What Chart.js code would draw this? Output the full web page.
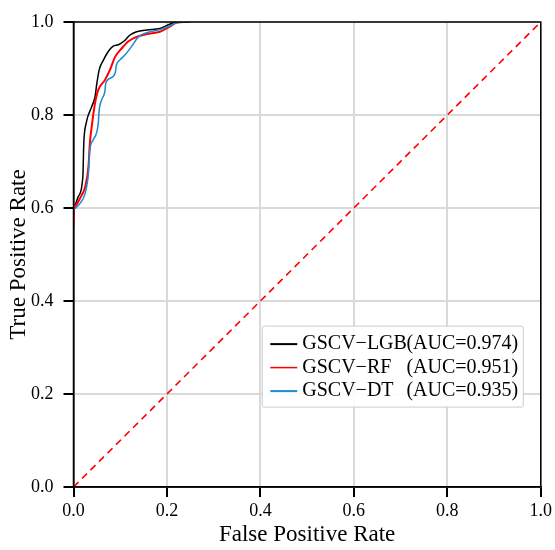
<!DOCTYPE html>
<html>
<head>
<meta charset="utf-8">
<script src="https://cdn.jsdelivr.net/npm/chart.js@4/dist/chart.umd.min.js"></script>
<style>
    html, body { margin: 0; padding: 0; background: #fff; }
    #roc-chart { display: block; }
</style>
</head>
<body>
<canvas id="roc-chart" width="555" height="550"></canvas>
<script>
const modelNames = ['GSCV\u2212LGB', 'GSCV\u2212RF', 'GSCV\u2212DT'];
const aucValues = ['(AUC=0.974)', '(AUC=0.951)', '(AUC=0.935)'];
const lineColors = ['#000000', '#ff0000', '#1f88d2'];

const fprLGB = [0.001, 0.010, 0.020, 0.022, 0.027, 0.039, 0.046, 0.050, 0.055, 0.064, 0.074, 0.085, 0.096, 0.107, 0.121, 0.135, 0.157, 0.185, 0.203, 0.217, 0.249];
const tprLGB = [0.597, 0.624, 0.667, 0.739, 0.782, 0.818, 0.839, 0.868, 0.897, 0.918, 0.936, 0.948, 0.951, 0.958, 0.972, 0.979, 0.983, 0.986, 0.994, 0.999, 1.000];

const fprRF = [0.000, 0.001, 0.005, 0.014, 0.025, 0.032, 0.035, 0.039, 0.046, 0.053, 0.067, 0.078, 0.089, 0.103, 0.117, 0.135, 0.157, 0.185, 0.206, 0.221, 0.240];
const tprRF = [0.560, 0.596, 0.606, 0.621, 0.646, 0.689, 0.739, 0.775, 0.825, 0.854, 0.875, 0.897, 0.925, 0.943, 0.958, 0.968, 0.974, 0.979, 0.990, 0.999, 1.000];

const fprDT = [0.001, 0.014, 0.025, 0.032, 0.035, 0.042, 0.053, 0.055, 0.060, 0.067, 0.069, 0.078, 0.089, 0.092, 0.099, 0.110, 0.124, 0.139, 0.157, 0.185, 0.206, 0.221, 0.249];
const tprDT = [0.597, 0.610, 0.632, 0.675, 0.725, 0.746, 0.782, 0.811, 0.832, 0.850, 0.868, 0.879, 0.890, 0.908, 0.918, 0.929, 0.947, 0.968, 0.977, 0.984, 0.991, 0.999, 1.000];

const chanceX = [0, 1];
const chanceY = [0, 1];

const tickValues = [0, 0.2, 0.4, 0.6, 0.8, 1.0];

const serif = '"Liberation Serif", "DejaVu Serif", serif';

function toPoints(xs, ys) {
    return xs.map((x, i) => ({ x: x, y: ys[i] }));
}

function curve(i, xs, ys, width) {
    return {
        label: modelNames[i],
        data: toPoints(xs, ys),
        borderColor: lineColors[i],
        backgroundColor: lineColors[i],
        borderWidth: width,
        pointRadius: 0,
        tension: 0.35,
        cubicInterpolationMode: 'monotone',
        fill: false
    };
}

const axisTicks = {
    font: { family: serif, size: 18 },
    color: '#000',
    callback: v => v.toFixed(1)
};

new Chart(document.getElementById('roc-chart'), {
    type: 'line',
    data: {
        datasets: [
            curve(2, fprDT, tprDT, 1.5),
            curve(1, fprRF, tprRF, 2),
            curve(0, fprLGB, tprLGB, 1.5),
            {
                label: 'chance',
                data: toPoints(chanceX, chanceY),
                borderColor: '#ff0000',
                borderWidth: 1.6,
                borderDash: [7, 5],
                pointRadius: 0,
                fill: false
            }
        ]
    },
    options: {
        responsive: false,
        animation: false,
        layout: {
            padding: { top: 22, right: 14, left: 0, bottom: 0 }
        },
        scales: {
            x: {
                type: 'linear',
                min: 0,
                max: 1,
                afterBuildTicks: s => { s.ticks = tickValues.map(v => ({ value: v })); },
                afterFit: s => { s.height = 63; },
                grid: {
                    color: '#d9d9d9',
                    lineWidth: 2,
                    tickColor: '#000',
                    tickLength: 10,
                    tickWidth: 2
                },
                border: { color: '#000', width: 1.5 },
                ticks: Object.assign({ padding: 3, maxRotation: 0 }, axisTicks),
                title: {
                    display: true,
                    text: 'False Positive Rate',
                    color: '#000',
                    font: { family: serif, size: 23 },
                    padding: { top: 0, bottom: 1 }
                }
            },
            y: {
                type: 'linear',
                min: 0,
                max: 1,
                afterBuildTicks: s => { s.ticks = tickValues.map(v => ({ value: v })); },
                afterFit: s => { s.width = 73.5; },
                grid: {
                    color: '#d9d9d9',
                    lineWidth: 2,
                    tickColor: '#000',
                    tickLength: 10,
                    tickWidth: 2
                },
                border: { color: '#000', width: 1.5 },
                ticks: Object.assign({ padding: 10 }, axisTicks),
                title: {
                    display: true,
                    text: 'True Positive Rate',
                    color: '#000',
                    font: { family: serif, size: 23 },
                    padding: { top: 5, bottom: 0 }
                }
            }
        },
        plugins: {
            legend: { display: false },
            tooltip: { enabled: false }
        }
    },
    plugins: [{
        id: 'frame-and-legend',
        afterDatasetsDraw: (chart) => {
            const ctx = chart.ctx;
            const area = chart.chartArea;
            ctx.save();
            ctx.strokeStyle = '#000';
            ctx.lineWidth = 1.5;
            ctx.strokeRect(area.left, area.top, area.right - area.left, area.bottom - area.top);

            // legend box, lower right inside the plot
            const boxLeft = area.left + 0.404 * (area.right - area.left);
            const boxTop = area.top + 0.654 * (area.bottom - area.top);
            const boxW = 261;
            const boxH = 81;
            ctx.fillStyle = 'rgba(255,255,255,0.9)';
            ctx.strokeStyle = '#cccccc';
            ctx.lineWidth = 1;
            ctx.beginPath();
            ctx.roundRect(boxLeft, boxTop, boxW, boxH, 2);
            ctx.fill();
            ctx.stroke();

            ctx.font = '20px ' + serif;
            ctx.textBaseline = 'middle';
            ctx.fillStyle = '#000';
            modelNames.forEach((name, i) => {
                const y = boxTop + 18 + i * 23.5;
                ctx.strokeStyle = lineColors[i];
                ctx.lineWidth = i === 1 ? 1.5 : 2;
                ctx.beginPath();
                ctx.moveTo(boxLeft + 8, y);
                ctx.lineTo(boxLeft + 35, y);
                ctx.stroke();
                ctx.textAlign = 'left';
                ctx.fillText(name, boxLeft + 40, y);
                ctx.textAlign = 'right';
                ctx.fillText(aucValues[i], boxLeft + 256, y);
            });
            ctx.restore();
        }
    }]
});
</script>
</body>
</html>
